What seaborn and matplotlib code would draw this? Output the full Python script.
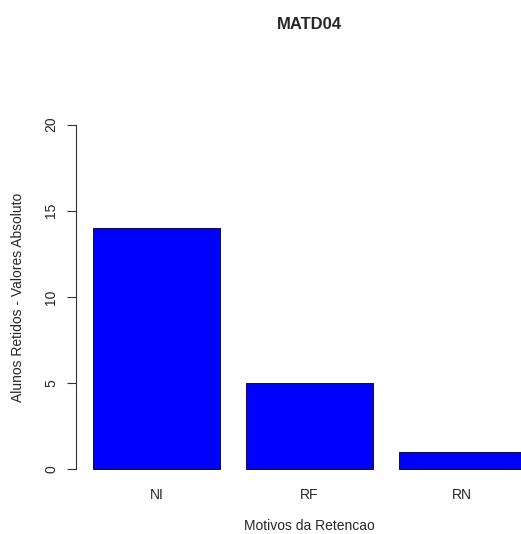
import matplotlib
matplotlib.use('Agg')
import matplotlib.pyplot as plt
import seaborn as sns

# Data
motivos = ['NI', 'RF', 'RN']
retidos = [14, 5, 1]
y_ticks = [0, 5, 10, 15, 20]

sns.set_style('white')
plt.rcParams['font.family'] = ['Liberation Sans', 'DejaVu Sans']

fig = plt.figure(figsize=(5.21, 5.34), dpi=100)
ax = fig.add_axes([0.1455, 0.0955, 0.897, 0.697])

sns.barplot(x=motivos, y=retidos, color='#0000FF', saturation=1, edgecolor='black',
            linewidth=0.6, width=1 / 1.2, ax=ax)

ax.set_xlim(-0.53, 2.53)
ax.set_ylim(-0.8, 20.8)
ax.set_yticks(y_ticks)

for s in ['top', 'right', 'bottom']:
    ax.spines[s].set_visible(False)
ax.spines['left'].set_bounds(0, 20)
ax.spines['left'].set_color('#333333')
ax.spines['left'].set_linewidth(0.8)

ax.tick_params(axis='y', left=True, length=6.5, width=0.8, color='#333333', pad=6,
               labelsize=10, labelrotation=90)
for t in ax.get_yticklabels():
    t.set_va('center')
ax.tick_params(axis='x', bottom=False, length=0, pad=3.5, labelsize=10)

ax.set_xlabel('Motivos da Retencao', fontsize=10, labelpad=12)
ax.set_ylabel('Alunos Retidos - Valores Absoluto', fontsize=10, labelpad=14)
ax.set_title('MATD04', fontsize=12, fontweight='bold', pad=59)

fig.savefig('out.png', dpi=100)
